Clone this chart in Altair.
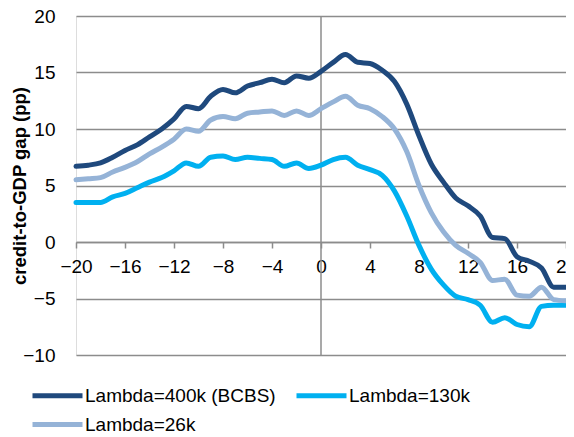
import altair as alt
import pandas as pd

x_vals = list(range(-20, 21))

lambda_400k = [6.7, 6.8, 7.0, 7.5, 8.1, 8.6, 9.3, 10.0, 10.9, 12.0, 11.8,
               12.9, 13.5, 13.2, 13.8, 14.1, 14.4, 14.1, 14.7, 14.5, 15.1,
               15.9, 16.6, 15.9, 15.8, 15.2, 14.2, 12.2, 9.4, 6.9, 5.3,
               3.9, 3.2, 2.3, 0.4, 0.3, -1.3, -1.7, -2.3, -4.0, -4.0]
lambda_130k = [3.5, 3.5, 3.5, 4.0, 4.3, 4.8, 5.3, 5.7, 6.3, 7.0, 6.7,
               7.5, 7.6, 7.3, 7.5, 7.4, 7.3, 6.7, 7.0, 6.5, 6.8,
               7.3, 7.5, 6.8, 6.4, 5.9, 4.5, 2.3, -0.3, -2.4, -3.8,
               -4.8, -5.1, -5.6, -7.1, -6.7, -7.3, -7.5, -5.7, -5.6, -5.6]
lambda_26k = [5.5, 5.6, 5.7, 6.2, 6.6, 7.1, 7.8, 8.4, 9.1, 10.0, 9.8,
              10.8, 11.1, 10.9, 11.4, 11.5, 11.6, 11.2, 11.6, 11.2, 11.8,
              12.4, 12.9, 12.1, 11.8, 11.1, 10.0, 8.0, 5.0, 2.6, 0.9,
              -0.3, -1.0, -1.8, -3.4, -3.3, -4.7, -4.8, -4.0, -5.1, -5.2]

series_names = ["Lambda=400k (BCBS)", "Lambda=130k", "Lambda=26k"]
series_colors = ["#1F497D", "#00B0F0", "#95B3D7"]
x_ticks = list(range(-20, 21, 4))
y_ticks = [-10, -5, 0, 5, 10, 15, 20]

rows = []
for name, vals in zip(series_names, [lambda_400k, lambda_130k, lambda_26k]):
    for xv, yv in zip(x_vals, vals):
        rows.append({"x": xv, "value": yv, "series": name})
df = pd.DataFrame(rows)

FONT = "Liberation Sans"
GRID = "#8C8C8C"

lines = alt.Chart(df).mark_line(
    strokeWidth=5, interpolate="monotone", strokeJoin="round", strokeCap="round"
).encode(
    x=alt.X("x:Q", scale=alt.Scale(domain=[-20, 20], nice=False, zero=False),
            axis=alt.Axis(values=x_ticks, offset=-113, tickSize=6, tickColor=GRID,
                          tickWidth=1.5, domainColor=GRID, domainWidth=1.5,
                          labelFontSize=19, labelPadding=9, labelColor="black",
                          labelFlush=False, grid=False, title=None, labelFont=FONT)),
    y=alt.Y("value:Q", scale=alt.Scale(domain=[-10, 20], nice=False),
            axis=alt.Axis(values=y_ticks, grid=True, gridColor=GRID, gridWidth=1.5,
                          domain=False, ticks=False, labelPadding=21, labelFontSize=19,
                          labelColor="black", labelFont=FONT,
                          title="credit-to-GDP gap (pp)", titleFontSize=18.5,
                          titleFontWeight="bold", titleFont=FONT, titleColor="black",
                          titlePadding=-7)),
    color=alt.Color("series:N", sort=series_names,
                    scale=alt.Scale(domain=series_names, range=series_colors),
                    legend=alt.Legend(orient="none", legendX=-28, legendY=370,
                                      direction="horizontal",
                                      columns=2, columnPadding=10, rowPadding=8,
                                      symbolType="M-5,0H5", symbolSize=100,
                                      symbolStrokeWidth=5, labelFontSize=19,
                                      labelFont=FONT, labelColor="black",
                                      labelOffset=18, title=None, labelLimit=400)),
    order=alt.Order("series:N")
)

zero_rule = alt.Chart(pd.DataFrame({"x": [0]})).mark_rule(
    color=GRID, strokeWidth=1.5
).encode(x="x:Q")

chart = alt.layer(zero_rule, lines).properties(
    width=490, height=339,
    autosize=alt.AutoSizeParams(type="none"),
    padding={"left": 68, "top": 8, "right": 0, "bottom": 82},
).configure_view(stroke=None).configure(font=FONT, background="white")

chart.save("out.html", embed_options={"renderer": "svg", "actions": False})
